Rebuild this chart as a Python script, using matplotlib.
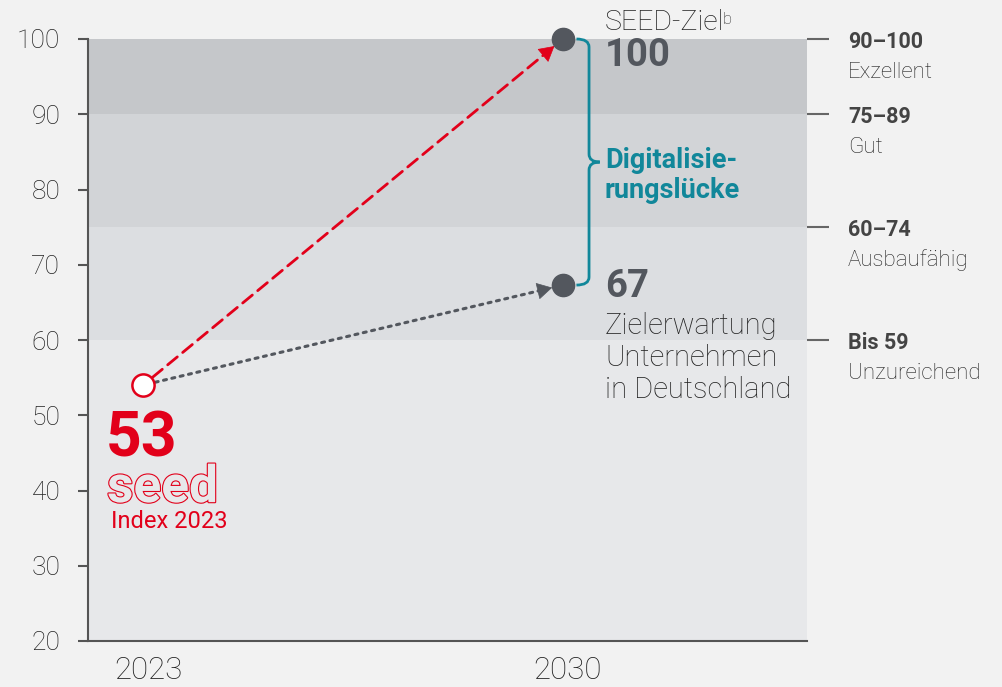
import numpy as np
import matplotlib
matplotlib.use("Agg")
import matplotlib.pyplot as plt
from matplotlib.path import Path
from matplotlib.patches import PathPatch
import matplotlib.patheffects as pe
import matplotlib.transforms as mtransforms

# Daten
years = ["2023", "2030"]
x_pos = [0, 1]
seed_index = 54.0        # Position des Punkts 2023
expected_2030 = 67.3     # Zielerwartung Unternehmen
seed_goal = 100          # SEED-Ziel
value_labels = ["53", "67", "100"]

band_edges = [20, 60, 75, 90, 100]
band_colors = ["#e7e8ea", "#dcdee1", "#d2d4d7", "#c5c7ca"]
band_ticks = [100, 90, 75, 60]
band_ranges = ["90–100", "75–89", "60–74", "Bis 59"]
band_names = ["Exzellent", "Gut", "Ausbaufähig", "Unzureichend"]
y_ticks = list(range(20, 101, 10))

RED = "#e2001a"
TEAL = "#11879a"
DARK = "#53575e"
TXT = "#222222"
BG = "#f2f2f2"

plt.rcParams['font.family'] = ['Roboto', 'DejaVu Sans']

fig = plt.figure(figsize=(10.02, 6.87), dpi=100, facecolor=BG)
ax = fig.add_axes([88 / 1002, 46 / 687, (807 - 88) / 1002, (641 - 39) / 687])
ax.set_facecolor(BG)
ax.set_xlim(-0.131, 1.581)
ax.set_ylim(20, 100)

# Hintergrundbaender
for lo, hi, c in zip(band_edges[:-1], band_edges[1:], band_colors):
    ax.axhspan(lo, hi, color=c, lw=0, zorder=0)

# Achsen
for s in ["top", "right"]:
    ax.spines[s].set_visible(False)
for s in ["left", "bottom"]:
    ax.spines[s].set_color("#555555")
    ax.spines[s].set_linewidth(1.5)
ax.set_yticks(y_ticks)
ax.tick_params(axis="y", length=7, width=1.5, color="#555555", pad=13,
               labelsize=19, labelcolor=TXT)
ax.set_xticks(x_pos)
ax.set_xticklabels(years)
ax.tick_params(axis="x", length=0, pad=11, labelsize=22.5, labelcolor=TXT)
shift = mtransforms.ScaledTranslation(5 / 100, 0, fig.dpi_scale_trans)
for lab in ax.get_xticklabels():
    lab.set_transform(lab.get_transform() + shift)
for lab in ax.get_yticklabels() + ax.get_xticklabels():
    lab.set_fontweight("light")

# rechte Skala
ax2 = ax.twinx()
ax2.set_ylim(20, 100)
for s in ax2.spines.values():
    s.set_visible(False)
ax2.set_yticks(band_ticks)
ax2.set_yticklabels([])
ax2.tick_params(axis="y", length=16, width=1.5, color="#666666")
for t, r, n in zip(band_ticks, band_ranges, band_names):
    ax.annotate(r, xy=(1, t), xycoords=("axes fraction", "data"),
                xytext=(41, -9), textcoords="offset pixels", va="baseline",
                fontsize=15.5, fontweight="bold", color="#444444",
                annotation_clip=False)
    ax.annotate(n, xy=(1, t), xycoords=("axes fraction", "data"),
                xytext=(41, -39), textcoords="offset pixels", va="baseline",
                fontsize=16, fontweight="light", color=TXT,
                annotation_clip=False)


# Pfeile: Linie gestrichelt/gepunktet, Spitze massiv
def arrow(y_end, color, lw, ls):
    start = (x_pos[0], seed_index)
    end = (x_pos[1], y_end)
    ax.annotate("", xy=end, xytext=start,
                arrowprops=dict(arrowstyle="-", color=color, lw=lw, linestyle=ls,
                                shrinkA=9, shrinkB=16), zorder=3)
    near = (x_pos[1] - 0.05, y_end - 0.05 * (y_end - seed_index))
    ax.annotate("", xy=end, xytext=near,
                arrowprops=dict(arrowstyle="-|>,head_length=0.5,head_width=0.28",
                                mutation_scale=20, color=color, lw=0.5,
                                shrinkA=0, shrinkB=8), zorder=3)


arrow(seed_goal, RED, 2, (0, (4.5, 2.5)))
arrow(expected_2030, DARK, 2.2, (0, (1, 1.8)))

# Punkte
ax.plot(x_pos[0], seed_index, "o", ms=16, mfc="white", mec=RED, mew=1.8,
        zorder=5, clip_on=False)
ax.plot([x_pos[1], x_pos[1]], [seed_goal, expected_2030], "o", ls="none",
        ms=16, color=DARK, zorder=5, clip_on=False)

# geschweifte Klammer
x0 = 1.062
rx, ry = 9 / 420, 8 / 7.525
mid = (seed_goal + expected_2030) / 2
verts = [(x0 - 1.4 * rx, seed_goal), (x0, seed_goal), (x0, seed_goal - ry),
         (x0, mid + ry), (x0, mid), (x0 + 1.2 * rx, mid),
         (x0, mid), (x0, mid - ry),
         (x0, expected_2030 + ry), (x0, expected_2030), (x0 - 1.4 * rx, expected_2030)]
codes = [Path.MOVETO, Path.CURVE3, Path.CURVE3,
         Path.LINETO, Path.CURVE3, Path.CURVE3,
         Path.CURVE3, Path.CURVE3,
         Path.LINETO, Path.CURVE3, Path.CURVE3]
ax.add_patch(PathPatch(Path(verts, codes), fill=False, ec=TEAL, lw=2,
                       zorder=4, clip_on=False))
for txt, dy in zip(["Digitalisie-", "rungslücke"], [-6, -36]):
    ax.annotate(txt, xy=(x_pos[1], mid), xytext=(42, dy), textcoords="offset pixels",
                va="baseline", fontsize=19.5, fontweight="bold", color=TEAL)

# Beschriftungen 2030
t_goal = ax.annotate("SEED-Ziel", xy=(x_pos[1], seed_goal), xytext=(42, 9),
                     textcoords="offset pixels", va="baseline", fontsize=20.5,
                     fontweight="light", color=TXT, annotation_clip=False)
ax.annotate("b", xy=(1, 1), xycoords=t_goal, xytext=(-2, -3),
            textcoords="offset pixels", va="top", fontsize=12,
            fontweight="light", color=TXT, annotation_clip=False)
ax.annotate(value_labels[2], xy=(x_pos[1], seed_goal), xytext=(42, -27),
            textcoords="offset pixels", va="baseline", fontsize=27.5,
            fontweight="bold", color=DARK)
ax.annotate(value_labels[1], xy=(x_pos[1], expected_2030), xytext=(42, -12),
            textcoords="offset pixels", va="baseline", fontsize=27.5,
            fontweight="bold", color=DARK)
for i, line in enumerate(["Zielerwartung", "Unternehmen", "in Deutschland"]):
    ax.annotate(line, xy=(x_pos[1], expected_2030), xytext=(42, -49 - 32 * i),
                textcoords="offset pixels", va="baseline", fontsize=21,
                fontweight="light", color=TXT)

# Beschriftungen 2023
ax.annotate(value_labels[0], xy=(x_pos[0], seed_index), xytext=(-37, -71),
            textcoords="offset pixels", va="baseline", fontsize=45,
            fontweight="bold", color=RED)
ax.annotate("seed", xy=(x_pos[0], seed_index), xytext=(-36, -117),
            textcoords="offset pixels", va="baseline", fontsize=37,
            fontweight="bold", color=band_colors[0],
            path_effects=[pe.withStroke(linewidth=1.6, foreground=RED)])
ax.annotate("Index 2023", xy=(x_pos[0], seed_index), xytext=(-32, -143),
            textcoords="offset pixels", va="baseline", fontsize=17,
            fontweight="normal", color=RED)

fig.savefig("out.png", dpi=100, facecolor=BG)
